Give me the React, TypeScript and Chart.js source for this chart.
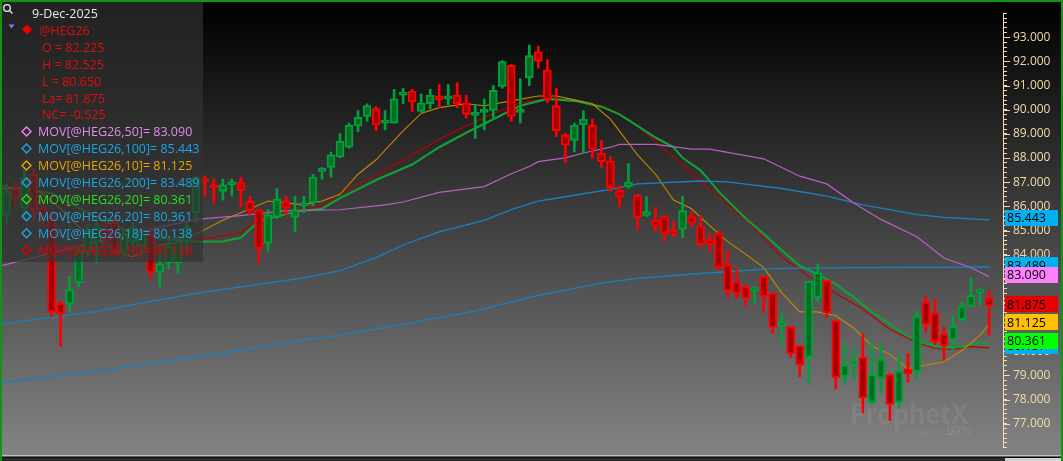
import React, { useEffect, useRef } from 'react';
import { Chart, registerables } from 'chart.js';

Chart.register(...registerables);

// ---------- price data (daily candles, oldest first) ----------
const opens = [
  85.66, 86.74, 85.94, 87.33, 85.94, 85.54, 81.99, 81.95, 82.83, 84.14,
  84.54, 85.02, 85.34, 84.14, 84.54, 84.34, 84.82, 83.26, 83.66, 83.66,
  84.54, 85.74, 87.09, 86.85, 86.62, 86.89, 87.01, 86.22, 85.86, 84.46,
  85.54, 86.22, 85.54, 86.02, 86.14, 87.45, 87.61, 88.05, 88.45, 89.33,
  89.73, 90.05, 89.45, 89.45, 90.61, 90.77, 89.93, 90.25, 90.57, 90.45,
  90.61, 90.29, 89.77, 89.89, 89.97, 90.97, 91.84, 89.89, 91.32, 92.40,
  91.64, 90.17, 88.97, 88.73, 89.37, 89.37, 88.21, 87.89, 86.66, 86.81,
  86.46, 85.62, 85.42, 85.58, 84.94, 85.06, 85.58, 85.18, 84.62, 84.90,
  83.58, 82.87, 82.67, 82.51, 83.10, 82.39, 81.07, 81.03, 80.23, 79.75,
  82.23, 82.94, 81.27, 78.96, 79.47, 79.75, 77.88, 78.88, 79.03, 77.88,
  79.27, 79.15, 82.03, 81.59, 80.71, 80.47, 81.31, 81.87, 82.43, 82.225,
];
const highs = [
  86.93, 87.01, 87.53, 87.53, 86.22, 85.82, 82.07, 83.11, 84.34, 85.26,
  85.54, 85.34, 85.54, 85.02, 85.34, 85.02, 85.02, 84.14, 84.62, 84.74,
  85.34, 87.25, 87.25, 87.13, 87.13, 87.13, 87.21, 86.42, 85.86, 85.86,
  86.74, 86.42, 86.42, 86.42, 87.33, 87.61, 88.25, 89.01, 89.45, 89.97,
  90.25, 90.13, 89.97, 90.85, 90.89, 90.85, 90.65, 90.85, 91.04, 91.04,
  91.12, 90.61, 90.21, 90.45, 91.00, 92.04, 91.88, 91.28, 92.68, 92.64,
  92.08, 90.89, 89.01, 89.45, 89.97, 89.61, 88.73, 88.05, 86.85, 87.77,
  86.50, 86.42, 85.94, 85.62, 85.38, 86.42, 85.78, 85.62, 84.86, 84.94,
  84.18, 83.42, 82.75, 82.67, 83.10, 82.43, 81.55, 81.03, 80.23, 82.90,
  83.62, 82.94, 81.31, 80.35, 80.11, 80.71, 80.35, 80.27, 79.07, 79.87,
  79.91, 81.67, 82.31, 82.15, 81.03, 81.47, 82.03, 83.06, 82.59, 82.525,
];
const lows = [
  85.26, 86.02, 85.54, 85.46, 85.14, 81.43, 80.19, 81.63, 82.67, 83.94,
  83.66, 84.22, 83.94, 83.90, 84.34, 84.14, 83.02, 82.67, 83.42, 83.22,
  84.06, 85.34, 86.42, 86.14, 86.26, 86.42, 85.98, 85.62, 83.66, 84.14,
  85.50, 85.66, 84.94, 85.74, 86.02, 87.13, 87.21, 88.01, 88.41, 89.09,
  89.53, 89.13, 89.17, 89.45, 90.25, 89.93, 89.89, 90.05, 90.09, 90.21,
  90.09, 89.65, 88.81, 89.17, 89.61, 90.89, 89.53, 89.45, 91.00, 91.72,
  90.29, 88.89, 87.81, 88.25, 88.21, 88.01, 87.61, 86.62, 85.98, 86.74,
  85.02, 85.58, 84.98, 84.58, 84.74, 84.70, 85.14, 84.30, 84.10, 83.38,
  82.23, 82.19, 81.87, 81.99, 81.63, 80.75, 80.27, 79.75, 78.95, 78.64,
  82.07, 81.39, 78.44, 78.64, 78.84, 77.44, 77.80, 78.28, 77.12, 77.64,
  78.72, 78.84, 80.79, 80.27, 79.63, 80.07, 81.23, 81.83, 81.91, 80.65,
];
const closes = [
  86.62, 86.34, 87.21, 85.86, 85.54, 81.63, 81.55, 82.55, 84.14, 85.02,
  85.14, 84.62, 84.14, 84.86, 85.14, 84.86, 83.26, 83.62, 84.34, 84.54,
  85.14, 87.21, 87.01, 86.77, 86.89, 86.93, 86.66, 85.82, 84.26, 85.66,
  86.30, 85.94, 85.86, 86.10, 87.21, 87.53, 88.13, 88.69, 89.37, 89.69,
  90.17, 89.37, 89.57, 90.45, 90.73, 90.33, 90.29, 90.61, 90.41, 90.53,
  90.25, 89.81, 89.81, 90.01, 90.81, 92.00, 89.73, 90.01, 92.24, 92.00,
  90.41, 89.13, 88.53, 89.37, 89.61, 88.37, 87.85, 86.77, 86.38, 87.01,
  85.54, 85.78, 85.18, 84.86, 84.86, 85.82, 85.30, 84.42, 84.42, 83.46,
  82.51, 82.39, 82.19, 82.59, 82.27, 80.99, 81.15, 79.91, 79.43, 82.90,
  83.26, 81.59, 78.92, 79.43, 79.51, 78.08, 79.03, 79.67, 77.80, 79.19,
  79.07, 81.43, 81.11, 80.39, 80.23, 81.03, 81.87, 82.31, 82.51, 81.875,
];

// ---------- moving averages (read at candle indexes) ----------
const ma50Idx = [-1, 10, 21, 26, 31, 37, 42, 44, 48, 53, 56, 58, 59, 62, 64, 67, 68, 72, 76, 78, 84, 88, 91, 94, 97, 101, 104, 107, 109];
const ma50Val = [83.50, 84.54, 85.46, 85.62, 85.82, 85.86, 86.06, 86.18, 86.58, 86.82, 87.35, 87.65, 87.85, 88.01, 88.21, 88.45, 88.57, 88.57, 88.37, 88.37, 87.97, 87.25, 86.93, 86.14, 85.46, 84.74, 83.86, 83.46, 83.09];

const ma100Idx = [-1, 10, 21, 33, 37, 41, 44, 48, 53, 56, 59, 63, 67, 70, 77, 80, 86, 91, 95, 101, 104, 109];
const ma100Val = [81.11, 81.65, 82.40, 83.04, 83.34, 83.88, 84.40, 84.94, 85.42, 85.86, 86.22, 86.46, 86.70, 86.93, 87.05, 87.01, 86.74, 86.42, 86.06, 85.66, 85.54, 85.443];

const ma200Idx = [-1, 10, 21, 33, 37, 44, 52, 59, 66, 70, 77, 85, 95, 109];
const ma200Val = [78.67, 79.19, 79.75, 80.47, 80.67, 81.11, 81.67, 82.31, 82.82, 83.02, 83.22, 83.42, 83.46, 83.489];

const ma10Idx = [-1, 3, 6, 9, 12, 14, 17, 19, 21, 24, 26, 29, 33, 35, 37, 39, 41, 44, 46, 48, 51, 53, 56, 59, 61, 63, 65, 67, 70, 72, 74, 76, 77, 80, 82, 84, 86, 88, 90, 92, 94, 96, 98, 100, 102, 104, 106, 108, 109];
const ma10Val = [86.7, 86.8, 85.9, 84.8, 84.2, 83.9, 84.4, 84.5, 84.85, 85.42, 85.74, 86.22, 86.06, 86.22, 86.50, 87.33, 87.93, 89.13, 89.85, 90.09, 90.25, 90.17, 90.37, 90.57, 90.57, 90.41, 90.25, 89.61, 88.13, 87.33, 86.26, 85.90, 85.54, 84.54, 84.02, 83.46, 82.43, 81.63, 81.63, 81.47, 80.95, 80.23, 79.87, 79.27, 79.43, 79.55, 80.03, 80.67, 81.125];

const ma20Idx = [-1, 5, 10, 15, 21, 24, 26, 28, 32, 35, 37, 41, 45, 48, 51, 54, 57, 60, 63, 66, 68, 70, 72, 74, 75, 77, 79, 82, 84, 86, 88, 90, 92, 94, 96, 98, 100, 102, 104, 106, 108, 109];
const ma20Val = [86.86, 86.54, 85.54, 84.74, 84.54, 84.55, 84.70, 85.38, 85.78, 85.90, 86.34, 87.09, 87.73, 88.45, 89.05, 89.61, 90.17, 90.45, 90.37, 90.13, 89.81, 89.33, 88.85, 88.45, 88.01, 87.49, 86.62, 85.50, 84.86, 84.18, 83.54, 83.18, 82.78, 82.23, 81.63, 81.11, 80.63, 80.31, 80.15, 80.19, 80.35, 80.361];

const ma18Idx = [-1, 5, 10, 15, 21, 26, 28, 32, 35, 37, 41, 45, 48, 51, 54, 57, 60, 63, 66, 68, 70, 72, 74, 75, 77, 80, 83, 86, 89, 92, 95, 98, 101, 103, 105, 107, 109];
const ma18Val = [86.8, 86.4, 85.4, 84.7, 84.6, 84.9, 85.5, 85.85, 86.0, 86.54, 87.29, 88.13, 88.77, 89.33, 89.85, 90.29, 90.45, 90.37, 90.17, 89.85, 89.33, 88.69, 88.05, 87.73, 87.01, 86.10, 85.10, 83.90, 83.10, 82.39, 81.75, 80.91, 80.35, 80.11, 80.07, 80.19, 80.138];

// ---------- text content ----------
const dateLabel = '9-Dec-2025';
const symbolLabel = '@HEG26';
const quoteLines = ['O = 82.225', 'H = 82.525', 'L = 80.650', 'La= 81.875', 'NC= -0.525'];
const studyNames = ['MOV[@HEG26,50]', 'MOV[@HEG26,100]', 'MOV[@HEG26,10]', 'MOV[@HEG26,200]', 'MOV[@HEG26,20]', 'MOV[@HEG26,20]', 'MOV[@HEG26,18]', 'MOV[@HEG26,18]'];
const studyValues = ['83.090', '85.443', '81.125', '83.489', '80.361', '80.361', '80.138', '80.138'];
const studyColors = ['#e38bf0', '#1ba6e6', '#e6a600', '#1ba6e6', '#22e022', '#1ba6e6', '#1ba6e6', '#dd0000'];

const tagValues = [85.443, 83.489, 83.090, 81.875, 81.125, 80.137, 80.361];
const tagColors = ['#00b0f0', '#00b0f0', '#ff80ff', '#e60000', '#ffc000', '#00b0f0', '#00ff00'];

const Y_MIN = 76;
const Y_MAX = 94;
const X_MIN = -0.5;
const X_MAX = 110.55;

const AXIS_COLOR = '#f3dcaa';
const FONT = '"Open Sans", "Noto Sans", sans-serif';

export default function App() {
  const ref = useRef<HTMLCanvasElement | null>(null);

  useEffect(() => {
    const canvas = ref.current;
    if (!canvas) return;
    const idx = opens.map((_, i) => i);
    const up = idx.map((i) => closes[i] >= opens[i]);
    const borderCols = up.map((u) => (u ? '#00a03c' : '#ff0000'));
    const fillCols = up.map((u) => (u ? '#006f22' : '#a30000'));
    const bodyData = idx.map((i) => ({ x: i, y: [Math.min(opens[i], closes[i]), Math.max(opens[i], closes[i])] }));
    const wickData = idx.map((i) => ({ x: i, y: [lows[i], highs[i]] }));
    const pts = (ix: number[], vals: number[]) => ix.map((x, k) => ({ x, y: vals[k] }));
    const lineDs = (label: string, ix: number[], vals: number[], color: string, width: number, order: number) => ({
      type: 'line' as const,
      label,
      data: pts(ix, vals),
      borderColor: color,
      borderWidth: width,
      pointRadius: 0,
      fill: false,
      tension: 0,
      clip: 0,
      order,
    });

    const bgPlugin = {
      id: 'bgPlugin',
      beforeDraw(chart: any) {
        const ctx = chart.ctx;
        ctx.save();
        const g = ctx.createLinearGradient(0, 2, 0, 455);
        g.addColorStop(0, '#000000');
        g.addColorStop(1, '#838383');
        ctx.fillStyle = g;
        ctx.fillRect(0, 0, 1063, 455);
        ctx.restore();
      },
      beforeDatasetsDraw(chart: any) {
        const ctx = chart.ctx;
        ctx.save();
        ctx.fillStyle = 'rgba(255,255,255,0.07)';
        ctx.textBaseline = 'alphabetic';
        ctx.textAlign = 'left';
        ctx.font = `bold 28px ${FONT}`;
        ctx.fillText('ProphetX', 850, 424, 118);
        ctx.font = `9px ${FONT}`;
        ctx.fillText('powered by', 908, 435);
        ctx.font = `bold 12px ${FONT}`;
        ctx.fillText('DTN', 946, 435);
        ctx.restore();
      },
    };

    const overlayPlugin = {
      id: 'overlayPlugin',
      afterDraw(chart: any) {
        const ctx = chart.ctx;
        const ys = chart.scales.y;
        const area = chart.chartArea;
        ctx.save();

        // major ticks
        ctx.strokeStyle = AXIS_COLOR;
        ctx.lineWidth = 1;
        for (let v = Math.ceil(Y_MIN) + 1; v < Y_MAX; v++) {
          const y = Math.round(ys.getPixelForValue(v)) + 0.5;
          ctx.beginPath();
          ctx.moveTo(area.right, y);
          ctx.lineTo(area.right + 7, y);
          ctx.stroke();
        }

        // value tags on the axis
        ctx.font = `12.5px ${FONT}`;
        ctx.textBaseline = 'middle';
        ctx.textAlign = 'left';
        tagValues.forEach((v, k) => {
          const cy = ys.getPixelForValue(v) - 2;
          ctx.fillStyle = tagColors[k];
          ctx.fillRect(area.right + 2, Math.round(cy - 8), 53, 16);
          ctx.fillStyle = '#000000';
          ctx.fillText(v.toFixed(3), area.right + 4, cy + 1);
        });

        // legend panel
        ctx.fillStyle = 'rgba(50,50,50,0.68)';
        ctx.fillRect(0, 0, 203, 262);
        const rowY = (k: number) => 14.2 + 16.95 * k;

        // magnifier icon
        ctx.strokeStyle = '#f0f0f0';
        ctx.lineWidth = 1.3;
        ctx.beginPath();
        ctx.arc(7, 8, 3.3, 0, Math.PI * 2);
        ctx.stroke();
        ctx.beginPath();
        ctx.moveTo(9.5, 10.5);
        ctx.lineTo(12.5, 13.5);
        ctx.stroke();

        ctx.font = `12.5px ${FONT}`;
        ctx.fillStyle = '#e8e8e8';
        ctx.fillText(dateLabel, 32, rowY(0));

        // collapse triangle
        ctx.fillStyle = '#7b7bff';
        ctx.beginPath();
        ctx.moveTo(8.5, 24.5);
        ctx.lineTo(14.5, 24.5);
        ctx.lineTo(11.5, 28.5);
        ctx.closePath();
        ctx.fill();

        // filled red diamond
        const d1 = 29.6;
        ctx.fillStyle = '#ee0000';
        ctx.beginPath();
        ctx.moveTo(27, d1 - 5);
        ctx.lineTo(32, d1);
        ctx.lineTo(27, d1 + 5);
        ctx.lineTo(22, d1);
        ctx.closePath();
        ctx.fill();

        ctx.fillStyle = '#dd1010';
        ctx.fillText(symbolLabel, 39, rowY(1));
        quoteLines.forEach((t, k) => ctx.fillText(t, 42, rowY(2 + k)));

        studyNames.forEach((name, k) => {
          const cy = rowY(7 + k);
          const dy = cy - 1.3;
          ctx.strokeStyle = studyColors[k] === '#e38bf0' ? '#ff80ff' : studyColors[k];
          ctx.lineWidth = 1.4;
          ctx.beginPath();
          ctx.moveTo(26.5, dy - 4.5);
          ctx.lineTo(31, dy);
          ctx.lineTo(26.5, dy + 4.5);
          ctx.lineTo(22, dy);
          ctx.closePath();
          ctx.stroke();
          ctx.fillStyle = studyColors[k];
          ctx.fillText(`${name}= ${studyValues[k]}`, 38, cy);
        });

        // frame
        ctx.fillStyle = '#c2c2c2';
        ctx.fillRect(0, 455, 1063, 1.7);
        ctx.fillStyle = '#0a0a0a';
        ctx.fillRect(0, 456.7, 1063, 1.2);
        ctx.fillStyle = '#2b2b2b';
        ctx.fillRect(0, 457.9, 1063, 3.1);
        ctx.fillStyle = '#d2d2d2';
        ctx.fillRect(1005, 458, 56, 3);
        ctx.fillStyle = '#129612';
        ctx.fillRect(0, 0, 1063, 2);
        ctx.fillRect(0, 0, 2, 461);
        ctx.fillRect(1061, 0, 2, 461);
        ctx.restore();
      },
    };

    const chart = new Chart(canvas, {
      type: 'bar',
      data: {
        datasets: [
          {
            type: 'bar',
            label: 'body',
            data: bodyData as any,
            backgroundColor: fillCols,
            borderColor: borderCols,
            borderWidth: 2,
            borderSkipped: false,
            barThickness: 8,
            minBarLength: 3,
            grouped: false,
            order: 0,
          },
          {
            type: 'bar',
            label: 'wick',
            data: wickData as any,
            backgroundColor: borderCols,
            borderWidth: 0,
            barThickness: 2,
            grouped: false,
            order: 1,
          },
          lineDs('MOV50', ma50Idx, ma50Val, '#b95fc4', 1.2, 2) as any,
          lineDs('MOV100', ma100Idx, ma100Val, '#1a80c0', 1.3, 3) as any,
          lineDs('MOV200', ma200Idx, ma200Val, '#1a80c0', 1.3, 4) as any,
          lineDs('MOV10', ma10Idx, ma10Val, '#c48a00', 1.1, 5) as any,
          lineDs('MOV18', ma18Idx, ma18Val, '#bb0000', 1.1, 7) as any,
          lineDs('MOV20', ma20Idx, ma20Val, '#13a034', 2.1, 6) as any,
        ],
      },
      options: {
        animation: false,
        responsive: false,
        devicePixelRatio: 1,
        events: [],
        layout: { padding: { left: 2, top: 3, right: 2, bottom: 6 } },
        plugins: { legend: { display: false }, tooltip: { enabled: false } },
        scales: {
          x: { type: 'linear', min: X_MIN, max: X_MAX, display: false, offset: false },
          y: {
            position: 'right',
            min: Y_MIN,
            max: Y_MAX,
            afterFit: (s: any) => {
              s.width = 58;
            },
            ticks: {
              stepSize: 0.2,
              autoSkip: false,
              color: AXIS_COLOR,
              font: { family: FONT, size: 12 },
              padding: 6,
              callback: (v: any) => {
                const n = Number(v);
                const isInt = Math.abs(n - Math.round(n)) < 1e-6;
                return isInt && n > Y_MIN + 0.5 && n < Y_MAX - 0.5 ? n.toFixed(3) : '';
              },
            },
            grid: { drawOnChartArea: false, drawTicks: true, tickLength: 4, tickColor: AXIS_COLOR, tickWidth: 1 },
            border: { display: true, color: AXIS_COLOR, width: 1 },
          },
        },
      } as any,
      plugins: [bgPlugin, overlayPlugin],
    });
    return () => chart.destroy();
  }, []);

  return (
    <div style={{ position: 'absolute', left: 0, top: 0, width: 1063, height: 461, background: '#000' }}>
      <canvas ref={ref} width={1063} height={461} style={{ display: 'block' }} />
    </div>
  );
}
